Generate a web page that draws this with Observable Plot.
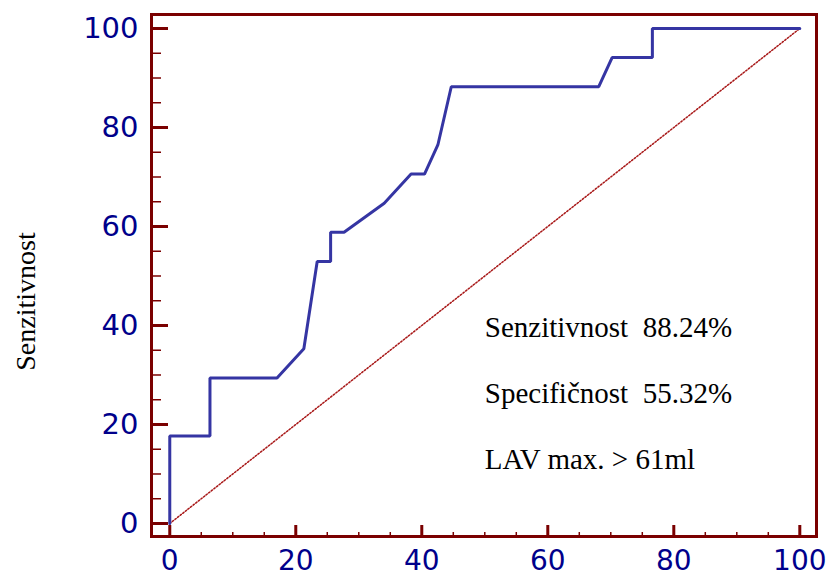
<!DOCTYPE html>
<html>
<head>
<meta charset="utf-8">
<script src="https://cdn.jsdelivr.net/npm/d3@7"></script>
<script src="https://cdn.jsdelivr.net/npm/@observablehq/plot@0.6"></script>
<style>
  html, body { margin: 0; padding: 0; background: #fff; }
</style>
</head>
<body>
<div id="chart"></div>
<script>
// ROC curve: 1 - specificity (%) and sensitivity (%)
const rocFpr = [0, 0, 6.38, 6.38, 17.02, 21.28, 23.40, 25.53, 25.53, 27.66, 34.04, 38.30, 40.43, 42.55, 44.68, 68.09, 70.21, 76.60, 76.60, 100];
const rocTpr = [0, 17.65, 17.65, 29.41, 29.41, 35.29, 52.94, 52.94, 58.82, 58.82, 64.71, 70.59, 70.59, 76.47, 88.24, 88.24, 94.12, 94.12, 100, 100];

// reference diagonal
const diagX = [0, 100];
const diagY = [0, 100];

// tick values
const majorTicks = [0, 20, 40, 60, 80, 100];
const minorTicks = [5, 10, 15, 25, 30, 35, 45, 50, 55, 65, 70, 75, 85, 90, 95];

// annotation
const noteLines = ["Senzitivnost  88.24%", "Specifičnost  55.32%", "LAV max. > 61ml"];
const noteX = [50, 50, 50];
const noteY = [37.6, 24.4, 11.1];

const yLabel = "Senzitivnost";

const roc = rocFpr.map((x, i) => ({x, y: rocTpr[i]}));
const diag = diagX.map((x, i) => ({x, y: diagY[i]}));
const notes = noteLines.map((t, i) => ({t, x: noteX[i], y: noteY[i]}));

const frameColor = "#7a0000";
const labelColor = "#00008b";

const chart = Plot.plot({
  width: 834,
  height: 577,
  marginLeft: 151,
  marginRight: 18,
  marginTop: 14,
  marginBottom: 41,
  style: {background: "#fff", overflow: "visible"},
  x: {domain: [-2.9, 102.65]},
  y: {domain: [-2.63, 102.83]},
  marks: [
    // diagonal
    Plot.line(diag, {x: "x", y: "y", stroke: "#a81818", strokeWidth: 1.5, strokeDasharray: "1.5,1.8"}),
    // ROC
    Plot.line(roc, {x: "x", y: "y", stroke: "#3535a3", strokeWidth: 3, strokeLinejoin: "miter"}),
    // y axis ticks (inward)
    Plot.axisY(majorTicks, {text: null, label: null, tickSize: -17, stroke: frameColor, strokeWidth: 3}),
    Plot.axisY(minorTicks, {text: null, label: null, tickSize: -10, stroke: frameColor, strokeWidth: 1.5}),
    Plot.axisY(majorTicks, {tickSize: 0, tickPadding: 13, label: null, fontSize: 29, fontFamily: "DejaVu Sans", color: labelColor}),
    // x axis ticks (inward)
    Plot.axisX(majorTicks, {text: null, label: null, tickSize: -11, stroke: frameColor, strokeWidth: 3}),
    Plot.axisX(minorTicks, {text: null, label: null, tickSize: -4, stroke: frameColor, strokeWidth: 1.5}),
    Plot.axisX(majorTicks, {tickSize: 0, tickPadding: 14, label: null, fontSize: 28, fontFamily: "DejaVu Sans", color: labelColor}),
    // frame
    Plot.frame({stroke: frameColor, strokeWidth: 3}),
    // annotation
    Plot.text(notes, {x: "x", y: "y", text: "t", textAnchor: "start", lineAnchor: "bottom", fontSize: 29, fontFamily: "Liberation Serif", fill: "#000"}),
    // y label
    Plot.text([yLabel], {frameAnchor: "left", text: d => d, rotate: -90, dx: -117, dy: 26, lineAnchor: "bottom", textAnchor: "middle", fontSize: 28, fontFamily: "Liberation Serif", fill: "#000"})
  ]
});

document.getElementById("chart").appendChild(chart);
</script>
</body>
</html>
